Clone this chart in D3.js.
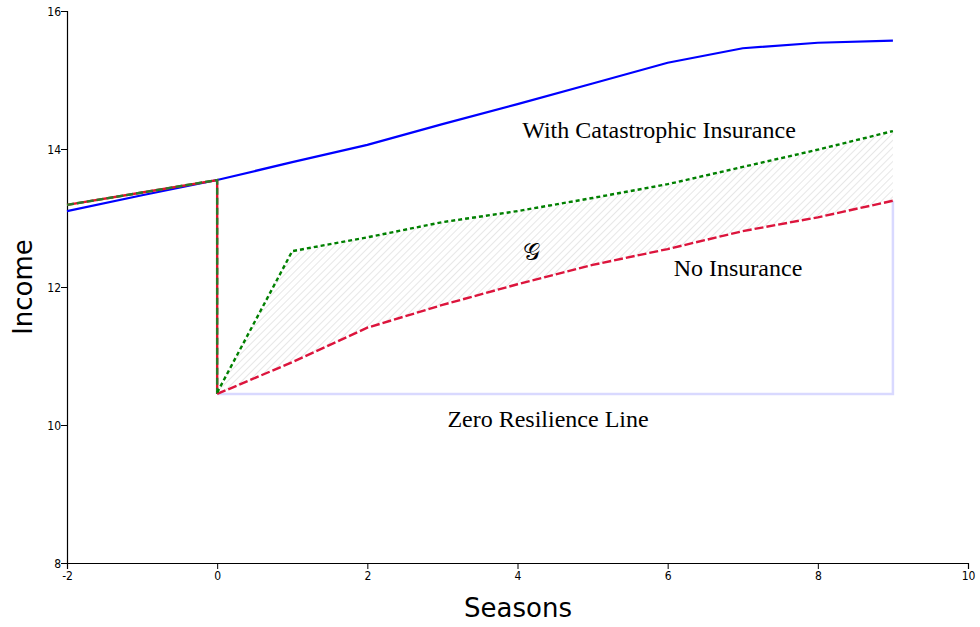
<!DOCTYPE html>
<html><head><meta charset="utf-8">
<script src="https://cdn.jsdelivr.net/npm/d3@7"></script>
<style>body{margin:0;background:#fff}svg{display:block}</style>
</head><body>
<svg id="c" width="980" height="627"></svg>
<script>
// Data
const seasonsBefore = [-2, -1, 0];
const seasonsAfter = [0, 1, 2, 3, 4, 5, 6, 7, 8, 9];
const insuredIncome = [13.10, 13.33, 13.55, 13.81, 14.06, 14.36, 14.65, 14.95, 15.25, 15.46, 15.54, 15.57];
const insuredSeasons = [-2, -1, 0, 1, 2, 3, 4, 5, 6, 7, 8, 9];
const preShockIncome = [13.19, 13.37, 13.55];
const shockLow = 10.45;
const noInsurance = [10.45, 10.91, 11.41, 11.74, 12.04, 12.32, 12.55, 12.81, 13.01, 13.25];
const catastrophic = [10.47, 12.52, 12.72, 12.94, 13.10, 13.29, 13.49, 13.74, 13.99, 14.26];
const xTicks = [-2, 0, 2, 4, 6, 8, 10];
const yTicks = [8, 10, 12, 14, 16];

const svg = d3.select("#c");
const m = {left: 67, top: 11, right: 12, bottom: 64};
const W = 980, H = 627;
const x = d3.scaleLinear().domain([-2, 10]).range([m.left, W - m.right]);
const y = d3.scaleLinear().domain([8, 16]).range([H - m.bottom, m.top]);
const fmt = d => String(d);

// hatch pattern
const defs = svg.append("defs");
const pat = defs.append("pattern").attr("id", "hatch").attr("patternUnits", "userSpaceOnUse")
  .attr("width", 5).attr("height", 5).attr("patternTransform", "rotate(45)");
pat.append("line").attr("x1", 0).attr("y1", 0).attr("x2", 0).attr("y2", 5)
  .attr("stroke", "#cfcfcf").attr("stroke-width", 1);

// axes
const xa = svg.append("g").attr("transform", `translate(0,${y(8)})`)
  .call(d3.axisBottom(x).tickValues(xTicks).tickFormat(fmt).tickSize(6));
const ya = svg.append("g").attr("transform", `translate(${x(-2)},0)`)
  .call(d3.axisLeft(y).tickValues(yTicks).tickFormat(fmt).tickSize(6));
[xa, ya].forEach(a => {
  a.selectAll("text").attr("font-family", "DejaVu Sans Condensed, DejaVu Sans, Verdana, sans-serif").attr("font-size", 12).attr("fill", "#000");
  a.select(".domain").attr("stroke", "#000").attr("stroke-width", 1.2);
  a.selectAll(".tick line").attr("stroke", "#000");
});
ya.selectAll(".tick text").attr("x", -6).attr("dy", "0.35em");
xa.selectAll(".tick text").attr("y", 8);

// hatched area between catastrophic and no insurance
const areaData = seasonsAfter.map((s, i) => ({s, hi: catastrophic[i], lo: noInsurance[i]}));
svg.append("path").datum(areaData)
  .attr("d", d3.area().x(d => x(d.s)).y0(d => y(d.lo)).y1(d => y(d.hi)))
  .attr("fill", "url(#hatch)");

// zero resilience line
const zr = [[0, shockLow], [9, shockLow], [9, noInsurance[noInsurance.length - 1]]];
svg.append("path").datum(zr)
  .attr("d", d3.line().x(d => x(d[0])).y(d => y(d[1])))
  .attr("fill", "none").attr("stroke", "#d9d9ff").attr("stroke-width", 2.5);

const line = d3.line().x(d => x(d[0])).y(d => y(d[1]));

// insured (blue)
svg.append("path").datum(insuredSeasons.map((s, i) => [s, insuredIncome[i]]))
  .attr("d", line).attr("fill", "none").attr("stroke", "#0000ff").attr("stroke-width", 2.2);

// pre-shock + drop
const pre = seasonsBefore.map((s, i) => [s, preShockIncome[i]]).concat([[0, shockLow]]);
svg.append("path").datum(pre).attr("d", line).attr("fill", "none")
  .attr("stroke", "#e8102a").attr("stroke-width", 2.4);
svg.append("path").datum(pre).attr("d", line).attr("fill", "none")
  .attr("stroke", "#2a7a2a").attr("stroke-width", 2.4).attr("stroke-dasharray", "7,3");

// no insurance (red dashed)
svg.append("path").datum(seasonsAfter.map((s, i) => [s, noInsurance[i]]))
  .attr("d", line).attr("fill", "none").attr("stroke", "#dc143c").attr("stroke-width", 2.4)
  .attr("stroke-dasharray", "9,3");

// catastrophic (green dotted)
svg.append("path").datum(seasonsAfter.map((s, i) => [s, catastrophic[i]]))
  .attr("d", line).attr("fill", "none").attr("stroke", "#008000").attr("stroke-width", 2.4)
  .attr("stroke-dasharray", "4,3");

// annotations
const serif = "Liberation Serif, Times New Roman, serif";
svg.append("text").attr("x", 659).attr("y", 138).attr("text-anchor", "middle")
  .attr("font-family", serif).attr("font-size", 24).text("With Catastrophic Insurance");
svg.append("text").attr("x", 738).attr("y", 276).attr("text-anchor", "middle")
  .attr("font-family", serif).attr("font-size", 24).text("No Insurance");
svg.append("text").attr("x", 548).attr("y", 427).attr("text-anchor", "middle")
  .attr("font-family", serif).attr("font-size", 24).text("Zero Resilience Line");
svg.append("text").attr("x", 531).attr("y", 260).attr("text-anchor", "middle")
  .attr("font-family", "DejaVu Serif, serif").attr("font-size", 24).text("𝒢");

// axis titles
svg.append("text").attr("x", 518).attr("y", 617).attr("text-anchor", "middle")
  .attr("font-family", "DejaVu Sans, Verdana, sans-serif").attr("font-size", 26).text("Seasons");
svg.append("text").attr("transform", "translate(32,287) rotate(-90)").attr("text-anchor", "middle")
  .attr("font-family", "DejaVu Sans, Verdana, sans-serif").attr("font-size", 26).text("Income");
</script>
</body></html>
